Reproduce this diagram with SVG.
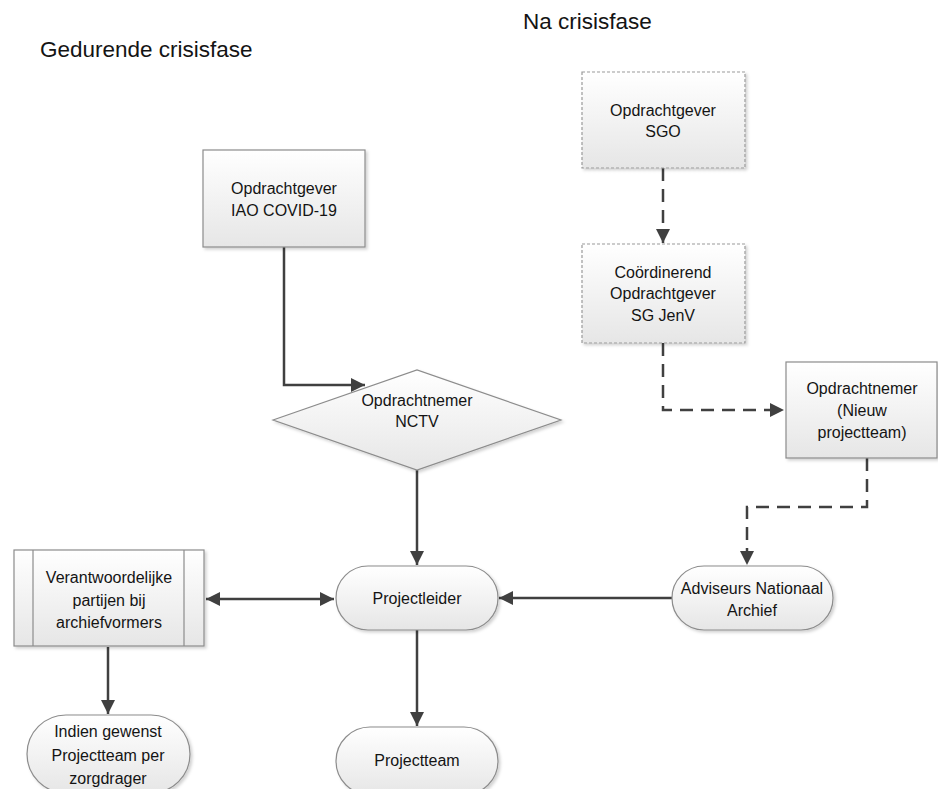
<svg xmlns="http://www.w3.org/2000/svg" width="938" height="789" viewBox="0 0 938 789">
<style>
  .t{font-family:"Liberation Sans",Arial,sans-serif;font-size:16px;fill:#141414;text-anchor:middle}
  .h{font-family:"Liberation Sans",Arial,sans-serif;font-size:22.5px;fill:#141414}
  .n{fill:url(#g);stroke:#8c8c8c;stroke-width:1.2;filter:url(#sh)}
  .d{fill:url(#g);stroke:#999;stroke-width:1.2;stroke-dasharray:3 2;filter:url(#sh)}
  .c{fill:none;stroke:#404040;stroke-width:2.5}
  .cd{fill:none;stroke:#404040;stroke-width:2.5;stroke-dasharray:13 8}
</style>
<defs>
  <linearGradient id="g" x1="0" y1="0" x2="0" y2="1">
    <stop offset="0" stop-color="#ffffff"/>
    <stop offset="1" stop-color="#e6e6e6"/>
  </linearGradient>
  <filter id="sh" x="-10%" y="-10%" width="130%" height="130%">
    <feDropShadow dx="2" dy="2" stdDeviation="1.5" flood-color="#000" flood-opacity="0.18"/>
  </filter>
  <marker id="a" viewBox="0 0 12 12" refX="12" refY="6" markerWidth="14" markerHeight="14" markerUnits="userSpaceOnUse" orient="auto-start-reverse">
    <path d="M0,0 L12,6 L0,12 Z" fill="#404040"/>
  </marker>
</defs>
<rect width="938" height="789" fill="#fff"/>
<text class="h" x="40" y="57">Gedurende crisisfase</text>
<text class="h" x="523" y="29">Na crisisfase</text>

<g id="connectors">
  <path class="c" d="M284,247 V385 H365" marker-end="url(#a)"/>
  <path class="c" d="M417,470 V565" marker-end="url(#a)"/>
  <path class="c" d="M417,630 V726" marker-end="url(#a)"/>
  <path class="c" d="M206,599 H334" marker-start="url(#a)" marker-end="url(#a)"/>
  <path class="c" d="M108,647 V714" marker-end="url(#a)"/>
  <path class="c" d="M672,598 H499" marker-end="url(#a)"/>
  <path class="cd" d="M663,168 V243" marker-end="url(#a)"/>
  <path class="cd" d="M663,343 V410 H784" marker-end="url(#a)"/>
  <path class="cd" d="M867,458 V507 H747 V565" marker-end="url(#a)"/>
</g>

<g id="n_iao">
  <rect class="n" x="203" y="150" width="162" height="97"/>
  <text class="t" x="284" y="194">Opdrachtgever</text>
  <text class="t" x="284" y="216">IAO COVID-19</text>
</g>
<g id="n_nctv">
  <polygon class="n" points="273,420 417,370 561,420 417,470"/>
  <text class="t" x="417" y="406">Opdrachtnemer</text>
  <text class="t" x="417" y="427">NCTV</text>
</g>
<g id="n_projectleider">
  <rect class="n" x="336" y="566" width="162" height="64" rx="32"/>
  <text class="t" x="417" y="604">Projectleider</text>
</g>
<g id="n_verantw">
  <rect class="n" x="14" y="550" width="190" height="96"/>
  <line x1="33" y1="550" x2="33" y2="646" stroke="#8c8c8c" stroke-width="1.2"/>
  <line x1="184" y1="550" x2="184" y2="646" stroke="#8c8c8c" stroke-width="1.2"/>
  <text class="t" x="109" y="583">Verantwoordelijke</text>
  <text class="t" x="109" y="606">partijen bij</text>
  <text class="t" x="109" y="628">archiefvormers</text>
</g>
<g id="n_indien">
  <rect class="n" x="27" y="715" width="163" height="78" rx="39"/>
  <text class="t" x="108" y="737">Indien gewenst</text>
  <text class="t" x="108" y="761">Projectteam per</text>
  <text class="t" x="108" y="784">zorgdrager</text>
</g>
<g id="n_projectteam">
  <rect class="n" x="336" y="727" width="162" height="68" rx="34"/>
  <text class="t" x="417" y="766">Projectteam</text>
</g>
<g id="n_sgo">
  <rect class="d" x="582" y="72" width="163" height="96"/>
  <text class="t" x="663" y="116">Opdrachtgever</text>
  <text class="t" x="663" y="137">SGO</text>
</g>
<g id="n_sgjenv">
  <rect class="d" x="582" y="244" width="163" height="99"/>
  <text class="t" x="663" y="278">Coördinerend</text>
  <text class="t" x="663" y="299">Opdrachtgever</text>
  <text class="t" x="663" y="321">SG JenV</text>
</g>
<g id="n_nieuw">
  <rect class="n" x="786" y="362" width="151" height="96"/>
  <text class="t" x="862" y="394">Opdrachtnemer</text>
  <text class="t" x="862" y="416">(Nieuw</text>
  <text class="t" x="862" y="438">projectteam)</text>
</g>
<g id="n_adviseurs">
  <rect class="n" x="672" y="566" width="161" height="64" rx="32"/>
  <text class="t" x="752" y="594">Adviseurs Nationaal</text>
  <text class="t" x="752" y="616">Archief</text>
</g>
</svg>
